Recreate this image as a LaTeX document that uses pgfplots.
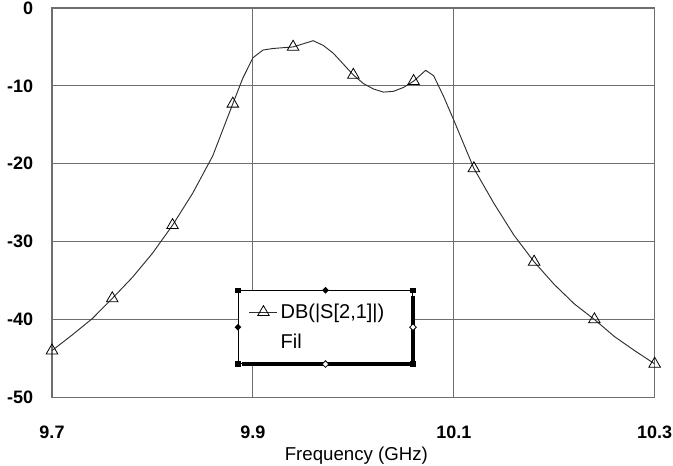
\documentclass[border=0pt]{standalone}
\usepackage{fontspec}
\setmainfont{Liberation Sans}
\usepackage{pgfplots}
\pgfplotsset{compat=1.18}
\definecolor{gridgray}{HTML}{6E6E6E}
\definecolor{curvegray}{HTML}{2E2E2E}

\pgfplotstableread{
f s21
9.70 -44.0
9.72 -42.0
9.74 -39.9
9.76 -37.3
9.78 -34.6
9.80 -31.5
9.82 -27.9
9.84 -23.8
9.86 -19.0
9.88 -12.3
9.89 -9.0
9.90 -6.4
9.91 -5.4
9.92 -5.2
9.93 -5.1
9.94 -5.0
9.95 -4.6
9.96 -4.2
9.97 -4.8
9.98 -5.8
9.99 -7.2
10.00 -8.6
10.01 -9.7
10.02 -10.4
10.03 -10.8
10.04 -10.7
10.05 -10.2
10.06 -9.4
10.072 -8.0
10.08 -8.7
10.09 -11.4
10.10 -14.4
10.11 -17.5
10.12 -20.6
10.14 -25.1
10.16 -29.2
10.18 -32.6
10.20 -35.5
10.22 -38.0
10.24 -40.0
10.26 -42.2
10.28 -44.0
10.30 -45.7
}\sparam

\begin{document}
\begin{tikzpicture}
\begin{axis}[
  at={(0,0)}, anchor=south west,
  scale only axis, width=452pt, height=292pt,
  xmin=9.7, xmax=10.3, ymin=-50, ymax=0,
  xtick={9.7,9.9,10.1,10.3},
  ytick={-50,-40,-30,-20,-10,0},
  major tick length=0pt,
  grid=major,
  major grid style={gridgray, line width=0.8pt},
  axis line style={gridgray, line width=0.8pt},
  /pgf/number format/assume math mode=true,
  tick label style={font=\fontsize{13.5}{16}\selectfont\bfseries},
  xticklabel style={anchor=center, yshift=-26pt,
    /pgf/number format/.cd, fixed, precision=1, fixed zerofill},
  yticklabel style={anchor=east, inner sep=0pt, xshift=-14pt},
  xlabel={Frequency (GHz)},
  xlabel style={at={(axis description cs:0.505,0)}, anchor=center,
    yshift=-43.5pt, font=\fontsize{14}{16}\selectfont},
  legend style={at={(rel axis cs:0.3085,0.275)}, anchor=north west,
    name=leg, draw=black, fill=white, line width=0.6pt,
    font=\fontsize{15}{17}\selectfont, inner xsep=8pt, inner ysep=8pt,
    row sep=6pt},
  legend cell align=left,
]
\addplot[curvegray, line width=0.7pt, mark=triangle,
  mark indices={1,4,7,10,16,22,28,34,37,40,43},
  mark options={solid, black, line width=0.6pt, mark size=5pt},
  legend image code/.code={
    \draw[mark indices={2}] plot coordinates {(0pt,0pt) (10.5pt,0pt) (21pt,0pt)};}
] table[x=f, y=s21] {\sparam};
\addlegendentry{\makebox[89pt][l]{DB(|S[2,1]|)}}
\addlegendimage{empty legend}
\addlegendentry{Fil}
\end{axis}
% legend frame handles
\draw[black, line width=3.3pt] ([yshift=-4pt]leg.north east) -- (leg.south east) -- ([xshift=3pt]leg.south west);
\foreach \p in {north west, north east, south west, south east}
  \fill[black] (leg.\p) ++(-2pt,-2pt) rectangle ++(4pt,4pt);
\foreach \p in {north, west}
  \fill[black] (leg.\p) +(0,2.5pt) -- +(2.5pt,0) -- +(0,-2.5pt) -- +(-2.5pt,0) -- cycle;
\foreach \p in {south, east}
  \filldraw[fill=white, draw=black, line width=0.6pt] (leg.\p) +(0,2.5pt) -- +(2.5pt,0) -- +(0,-2.5pt) -- +(-2.5pt,0) -- cycle;
\pgfresetboundingbox
\path (-39pt,-51pt) rectangle (465.75pt,298pt);
\end{tikzpicture}
\end{document}
